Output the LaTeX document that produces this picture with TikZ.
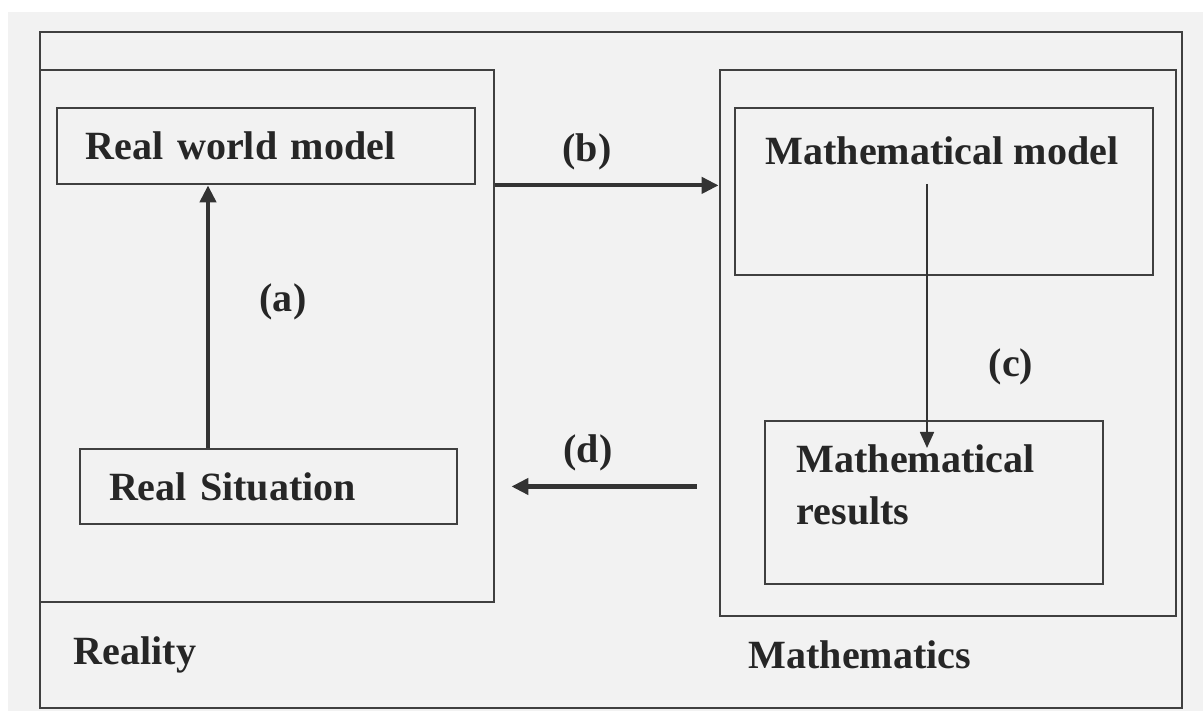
\documentclass[tikz,border=0pt]{standalone}
\usepackage{fontspec}
\setmainfont{Liberation Serif}
\usepackage{xcolor}
\usetikzlibrary{arrows.meta,positioning}

\begin{document}
\begin{tikzpicture}[
  every node/.style={font=\fontsize{11.4}{14.7}\selectfont\bfseries, text=black!85},
  frame/.style={draw=black!75, line width=0.8pt, rectangle, inner sep=0pt},
  box/.style={draw=black!75, line width=0.8pt, rectangle, inner xsep=0.29cm,
              align=left},
  txt/.style={inner sep=0pt, align=left},
  flow/.style={draw=black!80, line width=1.2pt, -{Triangle[length=1.7mm,width=1.6mm]}},
  thin/.style={draw=black!80, line width=0.5pt, -{Triangle[length=1.6mm,width=1.4mm]}}
]

%% scanned page
\useasboundingbox (0,0) rectangle (12.03,7.11);
\fill[white] (0,0) rectangle (12.03,7.11);
\fill[black!5] (0.08,0) rectangle (12.03,6.99);

%% frames
\node[frame, minimum width=11.42cm, minimum height=6.76cm] (all) at (6.11,3.41) {};
\node[frame, minimum width=4.54cm, minimum height=5.32cm] (real) at (2.67,3.75) {};
\node[frame, minimum width=4.56cm, minimum height=5.46cm] (math) at (9.48,3.68) {};

%% Reality column
\node[box, minimum height=0.76cm, text width=3.6cm] (rwm) at (2.66,5.65) {Real world model};
\node[box, minimum height=0.75cm, text width=3.19cm] (rs) at (2.685,2.245) {Real Situation};
\draw[flow] (rs.north -| 2.08,0) -- (rwm.south -| 2.08,0);
\node (la) at (2.83,4.09) {(a)};
\node[txt, anchor=west] (lreal) at (0.73,0.56) {Reality};

%% Mathematics column
\node[frame, minimum width=4.18cm, minimum height=1.67cm] (mm) at (9.44,5.195) {};
\node[txt, anchor=west] (mmt) at (7.65,5.60) {Mathematical model};
\node[frame, minimum width=3.38cm, minimum height=1.63cm] (mres) at (9.34,2.085) {};
\node[txt, anchor=north west] (mrest) at (7.96,2.67) {Mathematical\\results};
\coordinate (ctop) at (9.27,5.27);
\coordinate (cend) at (9.27,2.63);
\draw[thin] (ctop) -- (cend);
\node (lc) at (10.11,3.44) {(c)};
\node[txt, anchor=west] (lmath) at (7.48,0.56) {Mathematics};

%% links between the two sides
\draw[flow] (rwm.south -| real.east) -- (rwm.south -| math.west);
\node (lb) at (5.87,5.59) {(b)};
\draw[flow, shorten <=0.22cm, shorten >=0.16cm] (rs.center -| math.west) -- (rs.center -| real.east);
\node (ld) at (5.88,2.58) {(d)};
\end{tikzpicture}
\end{document}
